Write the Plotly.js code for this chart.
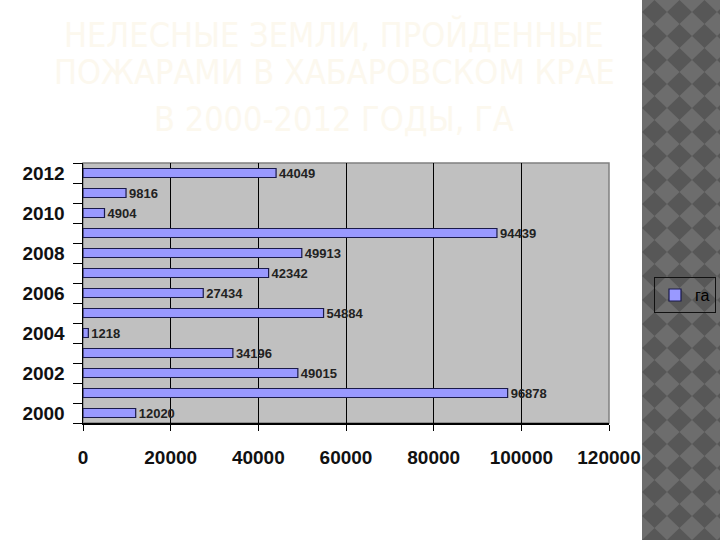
<!DOCTYPE html>
<html>
<head>
<meta charset="utf-8">
<script src="https://cdn.plot.ly/plotly-3.0.1.min.js"></script>
<style>
html,body{margin:0;padding:0;background:#ffffff;}
#wrap{position:relative;width:720px;height:540px;overflow:hidden;}
#strip{position:absolute;left:642px;top:0;width:78px;height:540px;
background-color:#6d6d6d;
background-image:url("data:image/svg+xml;utf8,<svg xmlns='http://www.w3.org/2000/svg' width='25' height='24'><rect width='25' height='24' fill='%236d6d6d'/><polygon points='12.5,0 25,12 12.5,24 0,12' fill='%23575757'/></svg>");
background-size:25px 24px;}
#chart{position:absolute;left:0;top:0;width:720px;height:540px;}
</style>
</head>
<body>
<div id="wrap">
<div id="strip"></div>
<div id="chart"></div>
</div>
<script>
const years = [2000,2001,2002,2003,2004,2005,2006,2007,2008,2009,2010,2011,2012];
const hectares = [12020,96878,49015,34196,1218,54884,27434,42342,49913,94439,4904,9816,44049];
const yearLabels = [2000,2002,2004,2006,2008,2010,2012];
const xTicks = [0,20000,40000,60000,80000,100000,120000];
const seriesName = 'га';
const titleLines = ['НЕЛЕСНЫЕ ЗЕМЛИ, ПРОЙДЕННЫЕ','ПОЖАРАМИ В ХАБАРОВСКОМ КРАЕ','В 2000-2012 ГОДЫ, ГА'];

const trace = {
  type:'bar', orientation:'h', x:hectares, y:years, name:seriesName,
  width:0.45,
  marker:{color:'#9999ff', line:{color:'#1a1a4a', width:1.2}},
  text:hectares.map(String), textposition:'outside', cliponaxis:false,
  constraintext:'none',
  textfont:{family:'Arial, Liberation Sans', size:13, color:'#222222', weight:'bold'},
  showlegend:true
};

const titleY = [34.5, 72.5, 119];
const annotations = titleLines.map((t,i)=>({
  text:t, xref:'paper', yref:'paper', x:(334-83)/526, xanchor:'center',
  y:(540-117-titleY[i])/260, yanchor:'middle', showarrow:false,
  font:{family:'DejaVu Sans Condensed, DejaVu Sans, sans-serif', size:34, color:'#fcf8ee'}
}));

const layout = {
  width:720, height:540,
  margin:{l:83, r:111, t:163, b:117, autoexpand:false},
  paper_bgcolor:'rgba(0,0,0,0)',
  plot_bgcolor:'#c0c0c0',
  annotations:annotations,
  xaxis:{range:[0,120000], tickvals:xTicks, ticktext:xTicks.map(String),
    showgrid:true, gridcolor:'#000000', gridwidth:1,
    showline:true, linecolor:'#000000', linewidth:1.5,
    ticks:'outside', ticklen:6, tickcolor:'#000000',
    ticklabelstandoff:11,
    tickfont:{family:'Arial, Liberation Sans', size:19, color:'#111111', weight:'bold'},
    zeroline:false, fixedrange:true},
  yaxis:{range:[1999.5,2012.5], tickvals:yearLabels, ticktext:yearLabels.map(String),
    showgrid:false, showline:true, linecolor:'#000000', linewidth:1.5,
    ticks:'', ticklabelstandoff:13,
    minor:{tick0:1999.5, dtick:1, ticks:'outside', ticklen:9, tickcolor:'#000000', showgrid:false},
    tickfont:{family:'Arial, Liberation Sans', size:19, color:'#111111', weight:'bold'},
    zeroline:false, fixedrange:true},
  legend:{x:(654-83)/526, xanchor:'left', y:0.492, yanchor:'middle',
    bgcolor:'rgba(0,0,0,0)', bordercolor:'#111111', borderwidth:1, itemwidth:30,
    font:{family:'Arial, Liberation Sans', size:16, color:'#000000'}},
  shapes:[{type:'rect', xref:'paper', yref:'paper', x0:0, x1:1, y0:0, y1:1,
    line:{color:'#808080', width:1.5}, layer:'below'}],
  bargap:0.5
};

Plotly.newPlot('chart',[trace],layout,{displayModeBar:false,staticPlot:true});
</script>
</body>
</html>
